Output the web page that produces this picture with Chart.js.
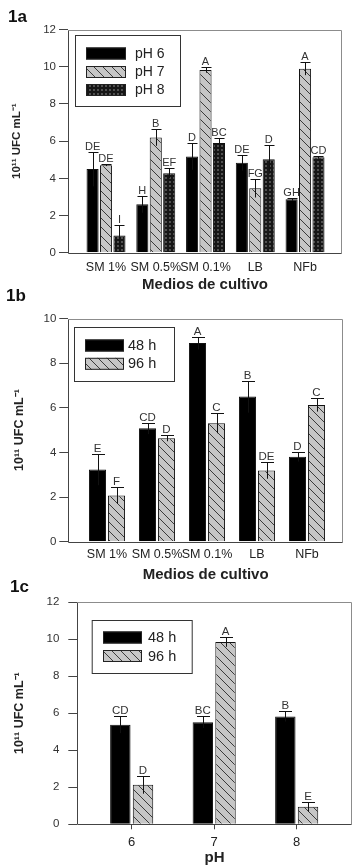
<!DOCTYPE html>
<html><head><meta charset="utf-8">
<script src="https://cdn.jsdelivr.net/npm/chart.js@4.4.1/dist/chart.umd.min.js"></script>
<style>
html,body{margin:0;padding:0;background:#fff;width:360px;height:867px;overflow:hidden;font-family:'Liberation Sans',Arial,sans-serif}
canvas{position:absolute;left:0}
.hd{position:absolute;font-weight:bold;font-size:17px;color:#111;line-height:17px}
</style></head><body>
<canvas id="c1" width="360" height="296" style="top:0px"></canvas>
<canvas id="c2" width="360" height="288" style="top:296px"></canvas>
<canvas id="c3" width="360" height="283" style="top:584px"></canvas>
<div class="hd" style="left:8px;top:8px">1a</div>
<div class="hd" style="left:6px;top:287px">1b</div>
<div class="hd" style="left:10px;top:578px">1c</div>
<script>
// ---------- DATA ----------
const mediaCategories = ['SM 1%', 'SM 0.5%', 'SM 0.1%', 'LB', 'NFb'];
const phCategories = ['6', '7', '8'];

// Panel 1a
const pH6Values = [4.50, 2.60, 5.17, 4.84, 2.87];
const pH6Errors = [0.93, 0.45, 0.71, 0.42, 0.08];
const pH6Letters = ['DE', 'H', 'D', 'DE', 'GH'];
const pH7Values = [4.71, 6.20, 9.83, 3.46, 9.90];
const pH7Errors = [0.05, 0.45, 0.15, 0.49, 0.35];
const pH7Letters = ['DE', 'B', 'A', 'FG', 'A'];
const pH8Values = [0.92, 4.27, 5.90, 5.02, 5.13];
const pH8Errors = [0.57, 0.27, 0.27, 0.77, 0.08];
const pH8Letters = ['I', 'EF', 'BC', 'D', 'CD'];

// Panel 1b
const b48Values = [3.23, 5.08, 8.90, 6.50, 3.81];
const b48Errors = [0.70, 0.26, 0.29, 0.72, 0.22];
const b48Letters = ['E', 'CD', 'A', 'B', 'D'];
const b96Values = [2.07, 4.64, 5.31, 3.19, 6.13];
const b96Errors = [0.37, 0.14, 0.45, 0.37, 0.30];
const b96Letters = ['F', 'D', 'C', 'DE', 'C'];

// Panel 1c
const c48Values = [5.37, 5.51, 5.82];
const c48Errors = [0.45, 0.31, 0.27];
const c48Letters = ['CD', 'BC', 'B'];
const c96Values = [2.13, 9.84, 0.95];
const c96Errors = [0.48, 0.26, 0.27];
const c96Letters = ['D', 'A', 'E'];

const yTitle = '10\u00B9\u00B9 UFC mL\u207B\u00B9';
const FONT = "'Liberation Sans', Arial, sans-serif";

// ---------- PATTERNS ----------
function hatchPattern(ctx) {
  const s = 9, c = document.createElement('canvas');
  c.width = c.height = s;
  const g = c.getContext('2d');
  g.fillStyle = '#c6c6c6'; g.fillRect(0, 0, s, s);
  g.strokeStyle = '#3a3a3a'; g.lineWidth = 1;
  g.beginPath();
  for (let k = -1; k <= 1; k++) { g.moveTo(0, k * s); g.lineTo(s, s + k * s); }
  g.stroke();
  return ctx.createPattern(c, 'repeat');
}
function dotPattern(ctx) {
  const s = 4, c = document.createElement('canvas');
  c.width = c.height = s;
  const g = c.getContext('2d');
  g.fillStyle = '#161616'; g.fillRect(0, 0, s, s);
  g.fillStyle = '#6e6e6e';
  g.beginPath(); g.arc(2, 2, 0.9, 0, Math.PI * 2); g.fill();
  return ctx.createPattern(c, 'repeat');
}

// ---------- PLUGINS ----------
function errorPlugin(errs, letters, cap, font) {
  return {
    id: 'errbars',
    afterDatasetsDraw(chart) {
      const ctx = chart.ctx, ys = chart.scales.y;
      ctx.save();
      chart.data.datasets.forEach((ds, di) => {
        const meta = chart.getDatasetMeta(di);
        meta.data.forEach((el, i) => {
          const v = ds.data[i].y, e = errs[di][i];
          const x = Math.round(el.x) + 0.5;
          const yt = Math.round(ys.getPixelForValue(v + e)) + 0.5;
          const yb = ys.getPixelForValue(v - e);
          ctx.strokeStyle = '#111'; ctx.lineWidth = 1;
          ctx.beginPath();
          ctx.moveTo(x, yb); ctx.lineTo(x, yt);
          ctx.moveTo(x - cap / 2, yt); ctx.lineTo(x + cap / 2, yt);
          ctx.stroke();
          ctx.fillStyle = '#333'; ctx.font = font;
          ctx.textAlign = 'center'; ctx.textBaseline = 'alphabetic';
          ctx.fillText(letters[di][i], el.x, yt - 3);
        });
      });
      ctx.restore();
    }
  };
}
function framePlugin(legendCfg) {
  return {
    id: 'frame',
    afterDraw(chart) {
      const ctx = chart.ctx, a = chart.chartArea;
      const L = Math.round(a.left) + 0.5, R = Math.round(a.right) - 0.5;
      const T = Math.round(a.top) + 0.5, B = Math.round(a.bottom) + 0.5;
      ctx.save();
      ctx.lineWidth = 1;
      ctx.strokeStyle = '#8c8c8c';
      ctx.beginPath(); ctx.moveTo(L, T); ctx.lineTo(R, T); ctx.lineTo(R, B); ctx.stroke();
      ctx.strokeStyle = '#444';
      ctx.beginPath(); ctx.moveTo(L, T); ctx.lineTo(L, B); ctx.lineTo(R, B); ctx.stroke();
      // legend box
      const lc = legendCfg;
      ctx.strokeStyle = '#333';
      ctx.strokeRect(lc.x + 0.5, lc.y + 0.5, lc.w, lc.h);
      chart.data.datasets.forEach((ds, i) => {
        const cy = lc.rows[i];
        ctx.fillStyle = ds.backgroundColor;
        ctx.fillRect(lc.sx, cy - 6, lc.sw, 12);
        ctx.strokeStyle = '#222';
        ctx.strokeRect(lc.sx + 0.5, cy - 6 + 0.5, lc.sw - 1, 11);
        ctx.fillStyle = '#222'; ctx.font = lc.font;
        ctx.textAlign = 'left'; ctx.textBaseline = 'middle';
        ctx.fillText(ds.label, lc.tx, cy + 0.5);
      });
      ctx.restore();
    }
  };
}

// ---------- CHART FACTORY ----------
function makePanel(p) {
  const canvas = document.getElementById(p.id);
  const ctx = canvas.getContext('2d');
  const fills = p.fills.map(f => f === 'hatch' ? hatchPattern(ctx) : f === 'dots' ? dotPattern(ctx) : f);
  const datasets = p.series.map((vals, si) => ({
    label: p.labels[si],
    data: vals.map((v, i) => ({ x: i, y: v })),
    backgroundColor: fills[si],
    borderColor: '#111',
    borderWidth: 1,
    categoryPercentage: p.catPct,
    barPercentage: p.barPct
  }));
  return new Chart(ctx, {
    type: 'bar',
    data: { datasets },
    options: {
      responsive: false, animation: false, devicePixelRatio: 1,
      layout: { padding: { left: 0, top: p.top, right: p.right, bottom: 0 } },
      plugins: { legend: { display: false }, tooltip: { enabled: false } },
      scales: {
        x: {
          type: 'linear', min: p.xmin, max: p.xmax, offset: false,
          afterBuildTicks(s) { s.ticks = p.cats.map((c, i) => ({ value: i })); },
          afterFit(s) { s.height = p.xh; },
          border: { display: false },
          grid: p.xticks ? { display: true, offset: false, drawOnChartArea: false, drawTicks: true, tickLength: 5, color: '#444' }
                         : { display: false, offset: false, drawTicks: false, tickLength: 0 },
          ticks: {
            autoSkip: false, maxRotation: 0, minRotation: 0, padding: p.xpad,
            font: { size: p.xfs, family: FONT }, color: '#222',
            callback: (v) => (p.cats[v] !== undefined ? p.cats[v] : '')
          },
          title: { display: true, text: p.xtitle, color: '#222',
                   font: { size: 15, weight: 'bold', family: FONT }, padding: { top: 0, bottom: p.xtpad } }
        },
        y: {
          min: 0, max: p.ymax,
          afterFit(s) { s.width = p.left; },
          border: { display: false },
          grid: { drawOnChartArea: false, drawTicks: true, tickLength: 9, color: '#444' },
          ticks: { stepSize: 2, padding: p.ypad, font: { size: 11.5, family: FONT }, color: '#333' },
          title: { display: true, text: yTitle, color: '#222',
                   font: { size: p.ytsize, weight: 'bold', family: FONT }, padding: { top: p.ytpad, bottom: 0 } }
        }
      }
    },
    plugins: [errorPlugin(p.errs, p.letters, p.cap, p.lfont), framePlugin(p.legend)]
  });
}

makePanel({
  id: 'c1', cats: mediaCategories, labels: ['pH 6', 'pH 7', 'pH 8'],
  series: [pH6Values, pH7Values, pH8Values], errs: [pH6Errors, pH7Errors, pH8Errors],
  letters: [pH6Letters, pH7Letters, pH8Letters], fills: ['#000', 'hatch', 'dots'],
  catPct: 0.81, barPct: 0.9, xmin: -0.764, xmax: 4.743, ymax: 12,
  top: 29.6, right: 18, left: 68, xh: 43.3, xpad: 7.8, xtpad: 2, xticks: false, xfs: 12.5,
  xtitle: 'Medios de cultivo', ypad: 3, ytsize: 11.5, ytpad: 10, cap: 10,
  lfont: '11px ' + FONT,
  legend: { x: 75, y: 35, w: 105, h: 71, sx: 86, sw: 40, rows: [53.5, 72, 90], tx: 135, font: '14px ' + FONT }
});

makePanel({
  id: 'c2', cats: mediaCategories, labels: ['48 h', '96 h'],
  series: [b48Values, b96Values], errs: [b48Errors, b96Errors],
  letters: [b48Letters, b96Letters], fills: ['#000', 'hatch'],
  catPct: 0.76, barPct: 0.9, xmin: -0.774, xmax: 4.72, ymax: 10,
  top: 22.5, right: 17, left: 68.3, xh: 42.3, xpad: 5.8, xtpad: 0, xticks: false, xfs: 12.5,
  xtitle: 'Medios de cultivo', ypad: 3, ytsize: 12.5, ytpad: 12, cap: 13,
  lfont: '11.5px ' + FONT,
  legend: { x: 74, y: 31, w: 100, h: 54, sx: 85, sw: 39, rows: [49.5, 67.8], tx: 128, font: '14.5px ' + FONT }
});

makePanel({
  id: 'c3', cats: phCategories, labels: ['48 h', '96 h'],
  series: [c48Values, c96Values], errs: [c48Errors, c96Errors],
  letters: [c48Letters, c96Letters], fills: ['#000', 'hatch'],
  catPct: 0.55, barPct: 0.9, xmin: -0.659, xmax: 2.667, ymax: 12,
  top: 18, right: 8.3, left: 77.3, xh: 42.7, xpad: 5, xtpad: 0.3, xticks: true, xfs: 13,
  xtitle: 'pH', ypad: 9, ytsize: 12.5, ytpad: 12, cap: 13,
  lfont: '11.5px ' + FONT,
  legend: { x: 91.7, y: 36, w: 100, h: 53, sx: 103, sw: 39, rows: [53.5, 72], tx: 148, font: '14.5px ' + FONT }
});
</script>
</body></html>
